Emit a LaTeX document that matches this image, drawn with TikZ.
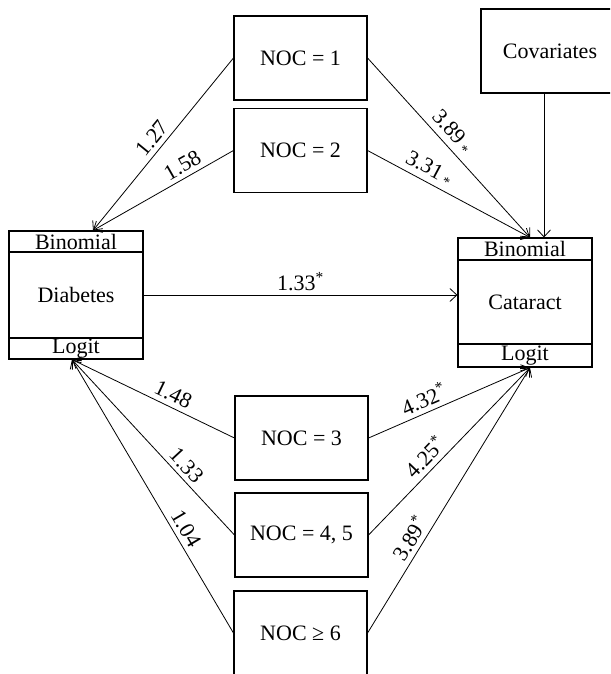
\documentclass[tikz,border=0pt]{standalone}
\usepackage{fontspec}
\setmainfont{Liberation Serif}
\usetikzlibrary{arrows.meta}
% small lowered asterisk used after the upper estimates
\newcommand{\sigmark}{\,\raisebox{-0.1em}{\fontsize{14}{14}\selectfont *}}
\begin{document}
\begin{tikzpicture}[x=1pt,y=-1pt,
  txt/.style={font=\fontsize{22}{26}\selectfont},
  box/.style={draw, line width=1.1pt, inner sep=0pt,
    minimum width=133pt, minimum height=84pt, txt},
  sect/.style={draw, line width=1.1pt, inner sep=0pt,
    minimum width=134pt, txt},
  arr/.style={line width=0.8pt, -{Straight Barb[length=7pt,width=13pt]}},
  lab/.style={txt, sloped, above, inner sep=4.5pt}]
\useasboundingbox (0,0) rectangle (610,674);
\clip (0,0) rectangle (610,674);

% NOC category boxes
\node[box] (noc1)  at (300.5,58)  {NOC = 1};
\node[box] (noc2)  at (300.5,150.5) {NOC = 2};
\node[box] (noc3)  at (301.5,438) {NOC = 3};
\node[box] (noc45) at (301.5,535) {NOC = 4, 5};
\node[box] (noc6)  at (300.5,633) {NOC ≥ 6};

% covariates
\node[box, minimum width=138pt] (cov) at (550,51) {Covariates};

% Diabetes model box
\node[sect, minimum height=21pt] (dbin)   at (76,241.5) {Binomial};
\node[sect, minimum height=86pt] (dmain)  at (76,295)   {Diabetes};
\node[sect, minimum height=21pt] (dlogit) at (76,348.5) {Logit};

% Cataract model box
\node[sect, minimum height=22pt] (cbin)   at (525,249)   {Binomial};
\node[sect, minimum height=84pt] (cmain)  at (525,302)   {Cataract};
\node[sect, minimum height=23pt, line width=1.4pt] (clogit) at (525,355.5) {Logit};

% arrow meeting points
\coordinate (dtop) at ([xshift=17pt]dbin.north);
\coordinate (dbot) at ([xshift=-4pt]dlogit.south);
\coordinate (ctop) at ([xshift=5pt]cbin.north);
\coordinate (cbot) at ([xshift=5pt]clogit.south);

% upper paths
\draw[arr] (noc1.west) -- node[lab, pos=0.51] {1.27} (dtop);
\draw[arr] (noc2.west) -- node[lab, pos=0.32] {1.58} (dtop);
\draw[arr] (noc1.east) -- node[lab, pos=0.46] {3.89\sigmark} (ctop);
\draw[arr] (noc2.east) -- node[lab, pos=0.34] {3.31\sigmark} (ctop);
\draw[arr] ([xshift=-6pt]cov.south) -- ([xshift=-6pt]cov.south |- cbin.north);

% direct path
\draw[arr] (dmain.east) -- node[txt, above, inner sep=4pt] {1.33\textsuperscript{*}} (dmain.east -| cmain.west);

% lower paths
\draw[arr] (noc3.west)  -- node[lab, pos=0.41] {1.48} (dbot);
\draw[arr] (noc45.west) -- node[lab, pos=0.35] {1.33} (dbot);
\draw[arr] (noc6.west)  -- node[lab, pos=0.36] {1.04} (dbot);
\draw[arr] (noc3.east)  -- node[lab, pos=0.375] {4.32\textsuperscript{*}} (cbot);
\draw[arr] (noc45.east) -- node[lab, pos=0.41] {4.25\textsuperscript{*}} (cbot);
\draw[arr] (noc6.east)  -- node[lab, pos=0.33] {3.89\textsuperscript{*}} (cbot);
\end{tikzpicture}
\end{document}
